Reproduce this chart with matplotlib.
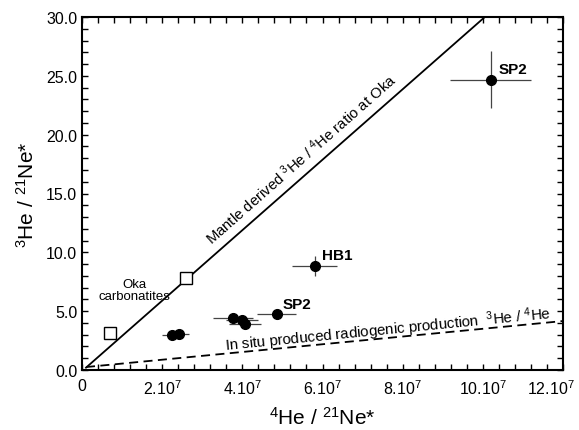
import matplotlib
matplotlib.use("Agg")
import matplotlib.pyplot as plt
import matplotlib.transforms as mtransforms
import numpy as np
from matplotlib.ticker import MultipleLocator, FuncFormatter

plt.rcParams['font.family'] = ['Liberation Sans', 'DejaVu Sans']
plt.rcParams['mathtext.fontset'] = 'custom'
plt.rcParams['mathtext.rm'] = 'Liberation Sans'
plt.rcParams['mathtext.it'] = 'Liberation Sans'
plt.rcParams['mathtext.default'] = 'regular'

# Data (x in units of 1e7)
sample_x = [10.2, 5.81, 4.86, 3.77, 3.99, 4.07, 2.25, 2.42]
sample_y = [24.65, 8.84, 4.76, 4.42, 4.25, 3.91, 2.97, 3.06]
sample_xerr = [1.01, 0.56, 0.49, 0.49, 0.40, 0.40, 0.25, 0.25]
sample_yerr = [2.42, 0.85, 0.30, 0.25, 0.25, 0.25, 0.20, 0.20]

oka_x = [0.70, 2.59]
oka_y = [3.14, 7.82]

mantle_x = [0.1, 10.05]
mantle_y = [0.2, 30.0]
insitu_x = [0.1, 12.0]
insitu_y = [0.25, 4.16]

labels = ["SP2", "HB1", "SP2"]
label_x = [10.75, 6.36, 5.36]
label_y = [25.6, 9.77, 5.6]

x_ticks = [0, 2, 4, 6, 8, 10, 12]
x_ticklabels = ["0", r"2.10$^{7}$", r"4.10$^{7}$", r"6.10$^{7}$", r"8.10$^{7}$",
                r"10.10$^{7}$", r"12.10$^{7}$"]

fig = plt.figure(figsize=(5.79, 4.31), dpi=100)
ax = fig.add_axes([82/579, 1-371/431, 481/579, 353/431])

ax.plot(mantle_x, mantle_y, color='black', lw=1.3)
ax.plot(insitu_x, insitu_y, color='black', lw=1.3, ls=(0, (5, 3)))

ax.errorbar(sample_x, sample_y, xerr=sample_xerr, yerr=sample_yerr, fmt='o',
            color='black', ms=7, ecolor='#444444', elinewidth=0.9, capsize=0, zorder=3)
ax.plot(oka_x, oka_y, 's', mfc='white', mec='black', ms=8, mew=1.0, zorder=4)

for t, x, y in zip(labels, label_x, label_y):
    ax.text(x, y, t, fontsize=11, fontweight='bold', ha='center', va='center')

ax.text(1.32, 6.8, "Oka\ncarbonatites", fontsize=9.5, ha='center', va='center', linespacing=1.0)

ax.text(5.45, 18.0, r"Mantle derived $^{3}$He / $^{4}$He ratio at Oka", fontsize=10.7,
        rotation=41.4, rotation_mode='anchor', ha='center', va='center')
ax.text(7.63, 3.5, r"In situ produced radiogenic production  $^{3}$He / $^{4}$He", fontsize=10.8,
        rotation=5.6, rotation_mode='anchor', ha='center', va='center')

ax.set_xlim(0, 12)
ax.set_ylim(0, 30)
ax.set_xticks(x_ticks)
ax.set_xticklabels([""] * len(x_ticks))
ax.xaxis.set_minor_locator(MultipleLocator(0.4))
ax.yaxis.set_major_locator(MultipleLocator(5))
ax.yaxis.set_minor_locator(MultipleLocator(1))
ax.yaxis.set_major_formatter(FuncFormatter(lambda v, p: "%.1f" % v))

ax.tick_params(which='both', direction='in', top=True, right=True, length=4.5, width=1.0,
               labelsize=11.5)
for s in ax.spines.values():
    s.set_linewidth(1.5)

# x tick labels as texts (last one nudged left to stay inside the figure)
base = ax.get_xaxis_transform()
for i, (xv, lab) in enumerate(zip(x_ticks, x_ticklabels)):
    dx = -12 / 100 if i == len(x_ticks) - 1 else 0
    tr = base + mtransforms.ScaledTranslation(dx, -8 / 100, fig.dpi_scale_trans)
    ax.text(xv, 0, lab, transform=tr, ha='center', va='top', fontsize=11.5, clip_on=False)

ax.set_xlabel(r"$^{4}$He / $^{21}$Ne*", fontsize=15, labelpad=22)
ax.set_ylabel(r"$^{3}$He / $^{21}$Ne*", fontsize=15, labelpad=6)

fig.savefig("out.png", dpi=100)
